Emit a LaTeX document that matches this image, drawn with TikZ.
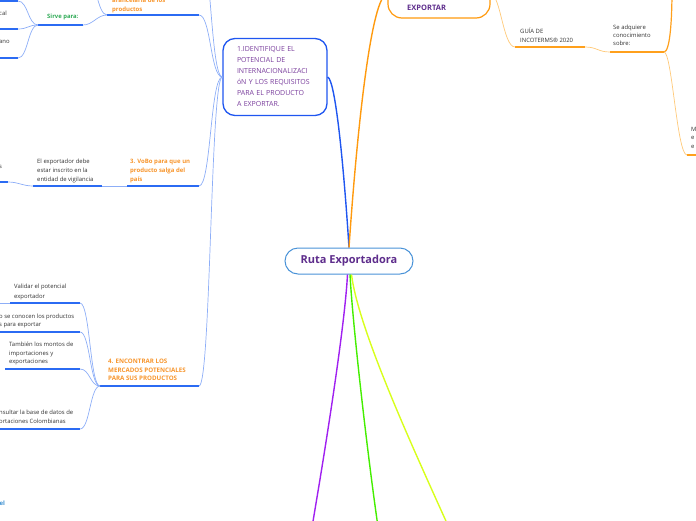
\documentclass[tikz,border=0pt]{standalone}
\usepackage{fontspec}
\setmainfont{Open Sans}
\usetikzlibrary{calc}
\definecolor{ublue}{HTML}{2B6BF3}
\definecolor{lblue}{HTML}{8DAEF7}
\definecolor{mainblue}{HTML}{1F56F0}
\definecolor{morange}{HTML}{FF9A0E}
\definecolor{uorange}{HTML}{FFA01C}
\definecolor{lorange}{HTML}{FFC978}
\definecolor{bpurple}{HTML}{A020F0}
\definecolor{bgreen}{HTML}{44EE00}
\definecolor{byellow}{HTML}{D8FF1C}
\definecolor{otext}{HTML}{F7952C}
\definecolor{gtext}{HTML}{2EAA55}
\definecolor{rootpurple}{HTML}{5E2D8C}
\definecolor{npurple}{HTML}{7A3E9D}
\definecolor{rootborder}{HTML}{4A93D8}
\definecolor{eltext}{HTML}{3A8FD0}
\definecolor{txtgray}{HTML}{333333}
\tikzset{
  ul/.style={draw=ublue, line width=1.6pt},
  lk/.style={draw=lblue, line width=0.7pt},
  ulo/.style={draw=uorange, line width=1.6pt},
  lko/.style={draw=lorange, line width=0.7pt},
  tx/.style={inner sep=0pt, anchor=north west, align=left, text=txtgray, font=\fontsize{5.9}{9}\selectfont},
  otx/.style={tx, text=otext, font=\fontsize{6}{8.8}\selectfont\bfseries},
  rootbox/.style={draw=rootborder, line width=1pt, fill=white, rounded corners=13pt, minimum width=128pt, minimum height=26pt, inner sep=0pt, text=rootpurple, font=\fontsize{11}{13}\selectfont\bfseries},
  n1box/.style={draw=mainblue, line width=1.3pt, fill=white, rounded corners=12pt, minimum width=104pt, minimum height=77pt, text width=76pt, inner xsep=14pt, inner ysep=0pt, align=left, text=npurple, font=\fontsize{7}{11}\selectfont},
  expbox/.style={draw=morange, line width=1.2pt, fill=white, rounded corners=14pt, minimum width=102pt, minimum height=48pt, inner sep=0pt},
  branch/.style={line width=1.4pt},
}
\begin{document}
\begin{tikzpicture}[x=1pt,y=-1pt]
\useasboundingbox (0,0) rectangle (696,520);
\clip (0,0) rectangle (696,520);

% ---------- central topic
\node[rootbox] (root) at (349,261) {Ruta Exportadora};

% ---------- node 1 and exporter box
\node[n1box] (n1) at (275,77) {1.IDENTIFIQUE EL\\POTENCIAL DE\\INTERNACIONALIZACI\\óN Y LOS REQUISITOS\\PARA EL PRODUCTO\\A EXPORTAR.};
\node[expbox] (exp) at (439,-6) {};
\node[inner sep=0pt, anchor=north west, text=rootpurple, font=\fontsize{7.5}{9}\selectfont\bfseries] (expt) at (407,5) {EXPORTAR};

% ---------- main branches
\draw[branch, mainblue] (n1.east) .. controls +(8,3) and +(-5,-78) .. (root.north);
\draw[branch, morange] (root.north) .. controls +(8,-118) and +(-16,0) .. (exp.west);
\coordinate (pEnd) at (311.5,530);
\coordinate (gEnd) at (378.5,530);
\coordinate (yEnd) at (450,530);
\draw[branch, bpurple] ([xshift=-1.5pt]root.south) .. controls +(-3,56) and +(12,-70) .. (pEnd);
\draw[branch, bgreen] ([xshift=1pt]root.south) .. controls +(3,56) and +(-9,-60) .. (gEnd);
\draw[branch, byellow] ([xshift=2.5pt]root.south) .. controls +(7,56) and +(-36,-80) .. (yEnd);

% ---------- left: arancelaria / sirve para
\coordinate (arL) at (107,15);
\coordinate (arR) at (199,15);
\node[otx] (ar) at (112,-2.5) {arancelaria de los\\productos};
\draw[ul] (arL) -- (arR);
\coordinate (siL) at (38,25);
\coordinate (siR) at (83,25);
\node[tx, text=gtext, font=\fontsize{5.9}{9}\selectfont\bfseries] (si) at (47,14) {Sirve para:};
\draw[ul] (siL) -- (siR);
\coordinate (c0R) at (18,1);
\coordinate (c1R) at (18,29);
\coordinate (c2R) at (18,58);
\draw[ul] (-2,1) -- (c0R);
\node[tx] (c1) at (-1,11) {cal};
\draw[ul] (-2,29) -- (c1R);
\node[tx] (c2) at (-1,40) {ano};
\draw[ul] (-2,58) -- (c2R);
\draw[lk] (siL) .. controls +(-10,0) and +(10,0) .. (c0R);
\draw[lk] (siL) .. controls +(-10,0) and +(10,0) .. (c1R);
\draw[lk] (siL) .. controls +(-10,0) and +(10,0) .. (c2R);
\draw[lk] (siR) .. controls +(10,0) and +(-10,0) .. (arL);
\coordinate (arUp) at (86,-25);
\draw[lk] (arL) .. controls +(-10,0) and +(10,0) .. (arUp);
\coordinate (n1Up) at (199,-60);
\draw[lk] (n1.west) .. controls +(-12,0) and +(12,0) .. (n1Up);
\draw[lk] (n1.west) .. controls +(-12,0) and +(12,0) .. (arR);

% ---------- 3. VoBo
\coordinate (voL) at (127,186);
\coordinate (voR) at (199,186);
\node[otx] (vo) at (130,159) {3. VoBo para que un\\producto salga del\\país};
\draw[ul] (voL) -- (voR);
\draw[lk] (n1.west) .. controls +(-12,0) and +(12,0) .. (voR);
\coordinate (exL) at (33,186);
\coordinate (exR) at (102,186);
\node[tx] (ex) at (37,159) {El exportador debe\\estar inscrito en la\\entidad de vigilancia};
\draw[ul] (exL) -- (exR);
\draw[lk] (voL) -- (exR);
\coordinate (sR) at (8,182);
\node[tx] (s) at (-1,165) {s};
\draw[ul] (-2,182) -- (sR);
\draw[lk] (exL) .. controls +(-10,0) and +(10,0) .. (sR);

% ---------- 4. Encontrar
\coordinate (enL) at (100,386);
\coordinate (enR) at (199,386);
\node[otx, font=\fontsize{6.2}{8.6}\selectfont\bfseries] (en) at (108,359) {4. ENCONTRAR LOS\\MERCADOS POTENCIALES\\PARA SUS PRODUCTOS};
\draw[ul] (enL) -- (enR);
\draw[lk] (n1.west) .. controls +(-12,0) and +(12,0) .. (enR);

\coordinate (vaL) at (10,303);
\coordinate (vaR) at (80,303);
\node[tx, font=\fontsize{5.9}{9.4}\selectfont] (va) at (14,284) {Validar el potencial\\exportador};
\draw[ul] (vaL) -- (vaR);
\draw[lk] (vaL) -- (-5,303);

\coordinate (coR) at (80,332);
\node[tx, font=\fontsize{5.9}{8}\selectfont] (co) at (-1,314) {o se conocen los productos\\s para exportar};
\draw[ul] (-2,332) -- (coR);

\coordinate (taL) at (5,369);
\coordinate (taR) at (80,369);
\node[tx, font=\fontsize{5.9}{8.6}\selectfont] (ta) at (9,342) {También los montos de\\importaciones y\\exportaciones};
\draw[ul] (taL) -- (taR);

\coordinate (nsR) at (80,429);
\node[tx] (ns) at (-1,410) {nsultar la base de datos de\\ortaciones Colombianas};
\draw[ul] (-2,429) -- (nsR);

\draw[lk] (enL) .. controls +(-10,0) and +(10,0) .. (vaR);
\draw[lk] (enL) .. controls +(-10,0) and +(10,0) .. (coR);
\draw[lk] (enL) .. controls +(-10,0) and +(10,0) .. (taR);
\draw[lk] (enL) .. controls +(-10,0) and +(10,0) .. (nsR);

\node[tx, text=eltext, font=\fontsize{6}{9}\selectfont\bfseries] (el) at (-0.5,501) {el};

% ---------- right: orange subtopics
\coordinate (guL) at (515,47);
\coordinate (guR) at (585,47);
\node[tx, font=\fontsize{5.9}{8.6}\selectfont] (gu) at (520,28) {GUÍA DE\\INCOTERMS® 2020};
\draw[ulo] (guL) -- (guR);
\draw[lko] (exp.east) .. controls +(10,0) and +(-12,0) .. (guL);

\coordinate (seL) at (610,52);
\coordinate (seR) at (664,52);
\node[tx, font=\fontsize{5.9}{8.4}\selectfont] (se) at (613,24.5) {Se adquiere\\conocimiento\\sobre:};
\draw[ulo] (seL) -- (seR);
\draw[lko] (guR) .. controls +(12,0) and +(-12,0) .. (seL);

\coordinate (seUp) at (672,-10);
\draw[draw=uorange, line width=1.2pt] (seR) .. controls +(6,0) and +(0,30) .. (seUp);

\coordinate (mL) at (687,155);
\node[tx, font=\fontsize{5.9}{8.4}\selectfont] (m) at (691,127) {M\\e\\e};
\draw[ulo] (mL) -- (700,155);
\draw[lko] (seR) .. controls +(8,0) and +(-10,0) .. (mL);
\end{tikzpicture}
\end{document}
